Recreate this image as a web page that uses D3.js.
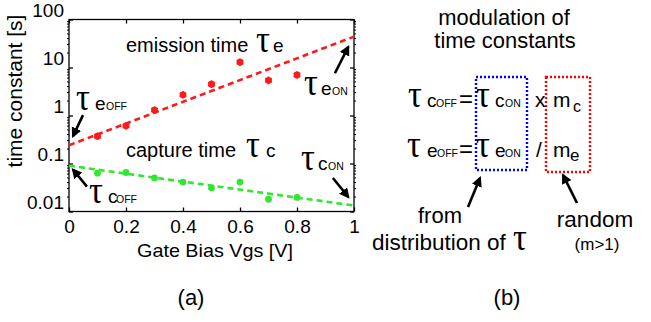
<!DOCTYPE html>
<html>
<head>
<meta charset="utf-8">
<script src="https://cdn.jsdelivr.net/npm/d3@7"></script>
<style>
  body { margin: 0; background: #fff; }
  text { font-family: "Liberation Sans", Arial, sans-serif; fill: #000; }
  .tau { font-family: "Liberation Serif", "Times New Roman", serif; }
  .axis path, .axis line { stroke: #000; stroke-width: 1.3; }
  .axis text { font-size: 19px; font-family: "Liberation Sans", Arial, sans-serif; }
</style>
</head>
<body>
<svg id="chart" width="651" height="322"></svg>
<script>
const vgs = [0.1, 0.2, 0.3, 0.4, 0.5, 0.6, 0.7, 0.8];
const emissionTime = [0.37, 0.61, 1.3, 2.7, 4.5, 12.9, 5.4, 7.0];
const captureTime = [0.063, 0.065, 0.050, 0.041, 0.031, 0.041, 0.018, 0.0196];
// straight fits (in log space) drawn as dashed lines
const fitVgs = [0, 1];
const emissionFit = [0.24, 44];
const captureFit = [0.09, 0.0133];
const xTicks = [0, 0.2, 0.4, 0.6, 0.8, 1];
const yTicks = [0.01, 0.1, 1, 10, 100];

const svg = d3.select('#chart');
svg.append('rect').attr('width', 651).attr('height', 322).attr('fill', '#fff');

const x = d3.scaleLinear().domain([0, 1]).range([69, 354]);
const y = d3.scaleLog().domain([0.01, 100]).range([211.5, 19.5]);

// arrow head
svg.append('defs').append('marker')
    .attr('id', 'head')
    .attr('viewBox', '0 0 10 10')
    .attr('refX', 8).attr('refY', 5)
    .attr('markerWidth', 4).attr('markerHeight', 4)
    .attr('orient', 'auto')
  .append('path')
    .attr('d', 'M0,0 L10,5 L0,10 z')
    .attr('fill', '#000');

function txt(px, py, s, size, anchor = 'start', sx = 1) {
    return svg.append('text')
        .attr('transform', `translate(${px},${py}) scale(${sx},1)`)
        .attr('text-anchor', anchor)
        .style('font-size', size + 'px')
        .text(s);
}

// tau glyph, stretched to look like the Symbol font one
function tau(px, py, size = 30) {
    return svg.append('text')
        .attr('class', 'tau')
        .attr('transform', `translate(${px},${py}) scale(1.15,1.25)`)
        .style('font-size', size + 'px')
        .text('τ');
}

function tauLabel(px, py, letter, small, gaps) {
    tau(px, py);
    txt(px + gaps[0], py, letter, 19);
    if (small) txt(px + gaps[1], py, small, 10.5);
}

function arrow(x1, y1, x2, y2) {
    svg.append('line')
        .attr('x1', x1).attr('y1', y1).attr('x2', x2).attr('y2', y2)
        .attr('stroke', '#000').attr('stroke-width', 2.6)
        .attr('marker-end', 'url(#head)');
}

// ---------- panel (a) ----------
const minor = y.ticks().filter(v => !yTicks.some(t => Math.abs(t - v) / v < 1e-6));

const gx = svg.append('g').attr('class', 'axis')
    .attr('transform', `translate(0,${y.range()[0]})`)
    .call(d3.axisBottom(x).tickValues(xTicks).tickFormat(d3.format('')).tickSize(-4).tickPadding(8));
gx.select('.domain').remove();

svg.append('g').attr('class', 'axis')
    .attr('transform', `translate(0,${y.range()[1]})`)
    .call(d3.axisTop(x).tickValues(xTicks).tickFormat('').tickSize(-4))
    .select('.domain').remove();

const gy = svg.append('g').attr('class', 'axis')
    .attr('transform', `translate(${x.range()[0]},0)`)
    .call(d3.axisLeft(y).tickValues(yTicks).tickFormat(d3.format('')).tickSize(-4).tickPadding(5));
gy.select('.domain').remove();
gy.selectAll('text').attr('y', -9.5);

svg.append('g').attr('class', 'axis')
    .attr('transform', `translate(${x.range()[1]},0)`)
    .call(d3.axisRight(y).tickValues(yTicks).tickFormat('').tickSize(-4))
    .select('.domain').remove();

[[x.range()[0], -2], [x.range()[1], 2]].forEach(([px, len]) => {
    svg.append('g').selectAll('line').data(minor).join('line')
        .attr('x1', px).attr('x2', px + len)
        .attr('y1', d => y(d)).attr('y2', d => y(d))
        .attr('stroke', '#000').attr('stroke-width', 1);
});

svg.append('rect')
    .attr('x', x.range()[0]).attr('y', y.range()[1])
    .attr('width', x.range()[1] - x.range()[0])
    .attr('height', y.range()[0] - y.range()[1])
    .attr('fill', 'none').attr('stroke', '#000').attr('stroke-width', 1.3);

const line = d3.line().x(d => x(d[0])).y(d => y(d[1]));
const red = '#ff1a1a', green = '#33e633';

svg.append('path')
    .datum(fitVgs.map((v, i) => [v, emissionFit[i]]))
    .attr('d', line).attr('fill', 'none')
    .attr('stroke', red).attr('stroke-width', 2.6).attr('stroke-dasharray', '6,4');
svg.append('path')
    .datum(fitVgs.map((v, i) => [v, captureFit[i]]))
    .attr('d', line).attr('fill', 'none')
    .attr('stroke', green).attr('stroke-width', 2.6).attr('stroke-dasharray', '6,4');

// emission: heavy asterisk markers
const em = svg.append('g').selectAll('g')
    .data(vgs.map((v, i) => [v, emissionTime[i]])).join('g')
    .attr('transform', d => `translate(${x(d[0])},${y(d[1])})`);
em.append('circle').attr('r', 3.4).attr('fill', red);
em.append('path').attr('d', d3.symbol(d3.symbolAsterisk || d3.symbolCross, 40))
    .attr('fill', 'none').attr('stroke', red).attr('stroke-width', 1.6);

svg.append('g').selectAll('circle')
    .data(vgs.map((v, i) => [v, captureTime[i]])).join('circle')
    .attr('cx', d => x(d[0])).attr('cy', d => y(d[1]))
    .attr('r', 3.4).attr('fill', green);

// annotations
txt(126, 52, 'emission time', 20);
tau(256, 52);
txt(273, 52, 'e', 19);
txt(126, 157, 'capture time', 20);
tau(246, 157);
txt(266, 157, 'c', 19);

tauLabel(76, 110, 'e', 'OFF', [19, 30]);
arrow(x(0.049), y(1.02), x(0.014), y(0.37));
tauLabel(89, 202.5, 'c', 'OFF', [19, 27]);
arrow(x(0.063), y(0.033), x(0.014), y(0.075));
tauLabel(304, 95, 'e', 'ON', [17, 28]);
arrow(x(0.933), y(7.6), x(0.98), y(27));
tauLabel(301, 170, 'c', 'ON', [17, 27]);
arrow(x(0.926), y(0.05), x(0.98), y(0.02));

txt(20, 91, 'time constant [s]', 20, 'middle', 1.05)
    .attr('transform', 'translate(22,91) rotate(-90) scale(1.05,1)');
txt(215, 257, 'Gate Bias Vgs [V]', 19, 'middle', 1.04);
txt(191, 305, '(a)', 22, 'middle');

// ---------- panel (b) ----------
txt(504, 25, 'modulation of', 21.5, 'middle', 1.02);
txt(505, 47.5, 'time constants', 21.5, 'middle', 1.02);

svg.append('rect').attr('x', 476).attr('y', 77).attr('width', 51).attr('height', 93)
    .attr('fill', 'none').attr('stroke', '#0000ff').attr('stroke-width', 2.4).attr('stroke-dasharray', '2,2');
svg.append('rect').attr('x', 546).attr('y', 77).attr('width', 44).attr('height', 95)
    .attr('fill', 'none').attr('stroke', '#ff0000').attr('stroke-width', 2.4).attr('stroke-dasharray', '2,2');

tauLabel(408, 107, 'c', 'OFF', [19, 28]);
txt(459, 107, '=', 24);
tauLabel(476, 107, 'c', 'ON', [19, 29]);
txt(535, 107, 'x', 21);
txt(553, 107, 'm', 21);
txt(573, 112, 'c', 16);

tauLabel(407, 157, 'e', 'OFF', [20, 30]);
txt(459, 157, '=', 24);
tauLabel(476, 157, 'e', 'ON', [19, 29]);
txt(536, 157, '/', 21);
txt(553, 157, 'm', 21);
txt(570, 161, 'e', 17);

arrow(468, 207, 480, 178);
arrow(577, 203, 563, 175);

txt(440, 223, 'from', 22, 'middle');
txt(372, 250, 'distribution of', 22.5);
tau(513, 250);
txt(595, 227, 'random', 22.5, 'middle');
txt(597, 250, '(m>1)', 17, 'middle');
txt(507, 305, '(b)', 22, 'middle');
</script>
</body>
</html>
